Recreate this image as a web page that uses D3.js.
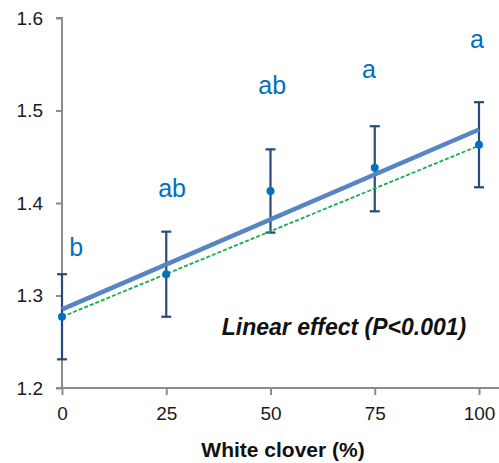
<!DOCTYPE html>
<html>
<head>
<meta charset="utf-8">
<script src="https://cdn.jsdelivr.net/npm/d3@7"></script>
<style>
  body { margin: 0; background: #fff; }
  text { font-family: "Liberation Sans", Arial, sans-serif; }
</style>
</head>
<body>
<svg id="chart" width="499" height="463"></svg>
<script>
const clover = [0, 25, 50, 75, 100];
const means = [1.277, 1.323, 1.413, 1.438, 1.463];
const errLow = [1.231, 1.277, 1.368, 1.391, 1.417];
const errHigh = [1.323, 1.369, 1.458, 1.483, 1.509];
const letters = ['b', 'ab', 'ab', 'a', 'a'];
const letterX = [3.4, 26.4, 50.4, 73.6, 99.5];
const letterY = [1.3427, 1.4065, 1.5178, 1.5351, 1.5676];
const fitSolid = [[0, 1.285], [100, 1.4795]];
const fitDashed = [[0, 1.277], [100, 1.462]];
const yTicks = [1.2, 1.3, 1.4, 1.5, 1.6];
const xTicks = [0, 25, 50, 75, 100];

const svg = d3.select('#chart');
const x = d3.scaleLinear().domain([0, 100]).range([62, 479]);
const y = d3.scaleLinear().domain([1.2, 1.6]).range([388, 18]);
const axisColor = '#8c8c8c';

// y axis
const yAxis = svg.append('g')
    .attr('transform', 'translate(62,0)')
    .call(d3.axisLeft(y).tickValues(yTicks).tickFormat(d3.format('.1f')).tickSize(6).tickPadding(13));
yAxis.select('.domain').attr('stroke', axisColor).attr('stroke-width', 2).attr('d', 'M-6,18H0V388');
yAxis.selectAll('line').attr('stroke', axisColor).attr('stroke-width', 2);
yAxis.selectAll('text').attr('font-size', 19).attr('fill', '#1a1a1a')
    .attr('font-family', '"Liberation Sans", Arial, sans-serif');

// x axis
const xAxis = svg.append('g')
    .attr('transform', 'translate(0,388)')
    .call(d3.axisBottom(x).tickValues(xTicks).tickSize(7).tickPadding(12));
xAxis.select('.domain').attr('stroke', axisColor).attr('stroke-width', 2).attr('d', 'M56,0H499');
xAxis.selectAll('line').attr('stroke', axisColor).attr('stroke-width', 2);
xAxis.selectAll('text').attr('font-size', 19).attr('fill', '#1a1a1a')
    .attr('font-family', '"Liberation Sans", Arial, sans-serif');

svg.append('text')
    .attr('x', 283).attr('y', 457)
    .attr('text-anchor', 'middle')
    .attr('font-size', 21).attr('font-weight', 'bold').attr('fill', '#111')
    .text('White clover (%)');

// error bars
const bars = svg.append('g').attr('stroke', '#264a7d').attr('stroke-width', 2.2);
clover.forEach((c, i) => {
    bars.append('line').attr('x1', x(c)).attr('x2', x(c)).attr('y1', y(errLow[i])).attr('y2', y(errHigh[i]));
    bars.append('line').attr('x1', x(c) - 5).attr('x2', x(c) + 5).attr('y1', y(errLow[i])).attr('y2', y(errLow[i]));
    bars.append('line').attr('x1', x(c) - 5).attr('x2', x(c) + 5).attr('y1', y(errHigh[i])).attr('y2', y(errHigh[i]));
});

const line = d3.line().x(d => x(d[0])).y(d => y(d[1]));

svg.append('path').datum(fitSolid)
    .attr('fill', 'none').attr('stroke', '#5784c4').attr('stroke-width', 4.5)
    .attr('d', line);

svg.append('path').datum(fitDashed)
    .attr('fill', 'none').attr('stroke', '#13b04a').attr('stroke-width', 1.8)
    .attr('stroke-dasharray', '4,2')
    .attr('d', line);

svg.append('g').selectAll('circle')
    .data(clover)
    .join('circle')
    .attr('cx', d => x(d))
    .attr('cy', (d, i) => y(means[i]))
    .attr('r', 4)
    .attr('fill', '#0070c0');

svg.append('g').selectAll('text')
    .data(letters)
    .join('text')
    .attr('x', (d, i) => x(letterX[i]))
    .attr('y', (d, i) => y(letterY[i]))
    .attr('text-anchor', 'middle')
    .attr('font-size', 25)
    .attr('fill', '#0070c0')
    .text(d => d);

svg.append('text')
    .attr('x', 344).attr('y', 335)
    .attr('text-anchor', 'middle')
    .attr('font-size', 23).attr('font-weight', 'bold').attr('font-style', 'italic')
    .attr('fill', '#111')
    .text('Linear effect (P<0.001)');
</script>
</body>
</html>
